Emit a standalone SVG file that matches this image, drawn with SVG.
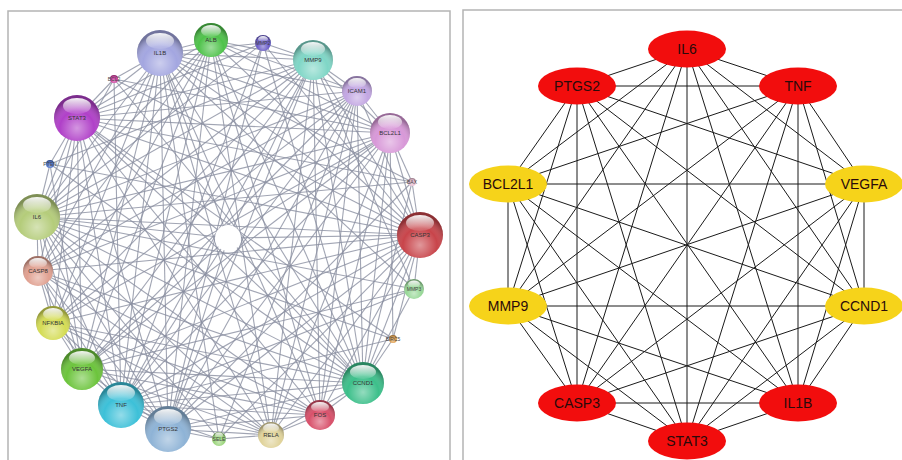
<svg xmlns="http://www.w3.org/2000/svg" width="902" height="460" viewBox="0 0 902 460">
<style>
.frame{fill:none;stroke:#b4b4b4;stroke-width:1.5}
.e1 line{stroke:#8a8fa0;stroke-width:1.1;stroke-opacity:0.8}
.e2 line{stroke:#1a1a1a;stroke-width:1}
.shade{fill:url(#shade)}
.gloss{fill:url(#gloss)}
.lbl{font-family:"Liberation Sans",Arial,sans-serif;font-size:6px;fill:#333;text-anchor:middle}
.sl{font-family:"Liberation Sans",Arial,sans-serif;font-size:5px;fill:#444;text-anchor:middle}
.big{font-family:"Liberation Sans",Arial,sans-serif;font-size:14px;fill:#2a0a0a;text-anchor:middle}
.red{fill:#f20d0d}
.yel{fill:#f6d31a}
</style>
<defs>
<radialGradient id="shade" cx="50%" cy="72%" r="62%">
<stop offset="0" stop-color="#fff" stop-opacity="0.45"/>
<stop offset="0.6" stop-color="#fff" stop-opacity="0"/>
<stop offset="1" stop-color="#000" stop-opacity="0.3"/>
</radialGradient>
<linearGradient id="gloss" x1="0" y1="0" x2="0" y2="1">
<stop offset="0" stop-color="#fff" stop-opacity="0.95"/>
<stop offset="1" stop-color="#fff" stop-opacity="0.1"/>
</linearGradient>
</defs>
<rect width="902" height="460" fill="#fff"/>
<path class="frame" d="M8 462V11H450V462"/>
<path class="frame" d="M463 462V10H905"/>

<g id="left-edges" class="e1">
<line x1="160" y1="53" x2="211" y2="40"/><line x1="160" y1="53" x2="313" y2="60"/><line x1="160" y1="53" x2="357" y2="91"/><line x1="160" y1="53" x2="390" y2="133"/><line x1="160" y1="53" x2="420" y2="235"/><line x1="160" y1="53" x2="363" y2="383"/><line x1="160" y1="53" x2="320" y2="415"/><line x1="160" y1="53" x2="271" y2="435"/><line x1="160" y1="53" x2="168" y2="429"/><line x1="160" y1="53" x2="121" y2="405"/><line x1="160" y1="53" x2="82" y2="369"/><line x1="160" y1="53" x2="53" y2="323"/><line x1="160" y1="53" x2="38" y2="271"/><line x1="160" y1="53" x2="37" y2="217"/><line x1="160" y1="53" x2="77" y2="118"/>
<line x1="211" y1="40" x2="313" y2="60"/><line x1="211" y1="40" x2="357" y2="91"/><line x1="211" y1="40" x2="390" y2="133"/><line x1="211" y1="40" x2="420" y2="235"/><line x1="211" y1="40" x2="363" y2="383"/><line x1="211" y1="40" x2="320" y2="415"/><line x1="211" y1="40" x2="271" y2="435"/><line x1="211" y1="40" x2="168" y2="429"/><line x1="211" y1="40" x2="121" y2="405"/><line x1="211" y1="40" x2="82" y2="369"/><line x1="211" y1="40" x2="53" y2="323"/><line x1="211" y1="40" x2="38" y2="271"/><line x1="211" y1="40" x2="37" y2="217"/><line x1="211" y1="40" x2="77" y2="118"/>
<line x1="313" y1="60" x2="357" y2="91"/><line x1="313" y1="60" x2="390" y2="133"/><line x1="313" y1="60" x2="420" y2="235"/><line x1="313" y1="60" x2="363" y2="383"/><line x1="313" y1="60" x2="320" y2="415"/><line x1="313" y1="60" x2="271" y2="435"/><line x1="313" y1="60" x2="168" y2="429"/><line x1="313" y1="60" x2="121" y2="405"/><line x1="313" y1="60" x2="82" y2="369"/><line x1="313" y1="60" x2="53" y2="323"/><line x1="313" y1="60" x2="38" y2="271"/><line x1="313" y1="60" x2="37" y2="217"/><line x1="313" y1="60" x2="77" y2="118"/>
<line x1="357" y1="91" x2="390" y2="133"/><line x1="357" y1="91" x2="420" y2="235"/><line x1="357" y1="91" x2="363" y2="383"/><line x1="357" y1="91" x2="320" y2="415"/><line x1="357" y1="91" x2="271" y2="435"/><line x1="357" y1="91" x2="168" y2="429"/><line x1="357" y1="91" x2="121" y2="405"/><line x1="357" y1="91" x2="82" y2="369"/><line x1="357" y1="91" x2="53" y2="323"/><line x1="357" y1="91" x2="38" y2="271"/><line x1="357" y1="91" x2="37" y2="217"/><line x1="357" y1="91" x2="77" y2="118"/>
<line x1="390" y1="133" x2="420" y2="235"/><line x1="390" y1="133" x2="363" y2="383"/><line x1="390" y1="133" x2="320" y2="415"/><line x1="390" y1="133" x2="271" y2="435"/><line x1="390" y1="133" x2="168" y2="429"/><line x1="390" y1="133" x2="121" y2="405"/><line x1="390" y1="133" x2="82" y2="369"/><line x1="390" y1="133" x2="53" y2="323"/><line x1="390" y1="133" x2="38" y2="271"/><line x1="390" y1="133" x2="37" y2="217"/><line x1="390" y1="133" x2="77" y2="118"/>
<line x1="420" y1="235" x2="363" y2="383"/><line x1="420" y1="235" x2="320" y2="415"/><line x1="420" y1="235" x2="271" y2="435"/><line x1="420" y1="235" x2="168" y2="429"/><line x1="420" y1="235" x2="121" y2="405"/><line x1="420" y1="235" x2="82" y2="369"/><line x1="420" y1="235" x2="53" y2="323"/><line x1="420" y1="235" x2="38" y2="271"/><line x1="420" y1="235" x2="37" y2="217"/><line x1="420" y1="235" x2="77" y2="118"/>
<line x1="363" y1="383" x2="320" y2="415"/><line x1="363" y1="383" x2="271" y2="435"/><line x1="363" y1="383" x2="168" y2="429"/><line x1="363" y1="383" x2="121" y2="405"/><line x1="363" y1="383" x2="82" y2="369"/><line x1="363" y1="383" x2="53" y2="323"/><line x1="363" y1="383" x2="38" y2="271"/><line x1="363" y1="383" x2="37" y2="217"/><line x1="363" y1="383" x2="77" y2="118"/>
<line x1="320" y1="415" x2="271" y2="435"/><line x1="320" y1="415" x2="168" y2="429"/><line x1="320" y1="415" x2="121" y2="405"/><line x1="320" y1="415" x2="82" y2="369"/><line x1="320" y1="415" x2="53" y2="323"/><line x1="320" y1="415" x2="38" y2="271"/><line x1="320" y1="415" x2="37" y2="217"/><line x1="320" y1="415" x2="77" y2="118"/>
<line x1="271" y1="435" x2="168" y2="429"/><line x1="271" y1="435" x2="121" y2="405"/><line x1="271" y1="435" x2="82" y2="369"/><line x1="271" y1="435" x2="53" y2="323"/><line x1="271" y1="435" x2="38" y2="271"/><line x1="271" y1="435" x2="37" y2="217"/><line x1="271" y1="435" x2="77" y2="118"/>
<line x1="168" y1="429" x2="121" y2="405"/><line x1="168" y1="429" x2="82" y2="369"/><line x1="168" y1="429" x2="53" y2="323"/><line x1="168" y1="429" x2="38" y2="271"/><line x1="168" y1="429" x2="37" y2="217"/><line x1="168" y1="429" x2="77" y2="118"/>
<line x1="121" y1="405" x2="82" y2="369"/><line x1="121" y1="405" x2="53" y2="323"/><line x1="121" y1="405" x2="38" y2="271"/><line x1="121" y1="405" x2="37" y2="217"/><line x1="121" y1="405" x2="77" y2="118"/>
<line x1="82" y1="369" x2="53" y2="323"/><line x1="82" y1="369" x2="38" y2="271"/><line x1="82" y1="369" x2="37" y2="217"/><line x1="82" y1="369" x2="77" y2="118"/>
<line x1="53" y1="323" x2="38" y2="271"/><line x1="53" y1="323" x2="37" y2="217"/><line x1="53" y1="323" x2="77" y2="118"/>
<line x1="38" y1="271" x2="37" y2="217"/><line x1="38" y1="271" x2="77" y2="118"/>
<line x1="37" y1="217" x2="77" y2="118"/>
<line x1="263" y1="43" x2="160" y2="53"/><line x1="263" y1="43" x2="313" y2="60"/><line x1="263" y1="43" x2="420" y2="235"/><line x1="263" y1="43" x2="168" y2="429"/><line x1="263" y1="43" x2="121" y2="405"/><line x1="263" y1="43" x2="37" y2="217"/><line x1="263" y1="43" x2="77" y2="118"/><line x1="263" y1="43" x2="363" y2="383"/>
<line x1="412" y1="182" x2="390" y2="133"/><line x1="412" y1="182" x2="420" y2="235"/><line x1="412" y1="182" x2="160" y2="53"/><line x1="412" y1="182" x2="77" y2="118"/><line x1="412" y1="182" x2="37" y2="217"/><line x1="412" y1="182" x2="168" y2="429"/><line x1="412" y1="182" x2="363" y2="383"/>
<line x1="414" y1="289" x2="420" y2="235"/><line x1="414" y1="289" x2="363" y2="383"/><line x1="414" y1="289" x2="121" y2="405"/><line x1="414" y1="289" x2="37" y2="217"/><line x1="414" y1="289" x2="160" y2="53"/><line x1="414" y1="289" x2="313" y2="60"/><line x1="414" y1="289" x2="82" y2="369"/>
<line x1="393" y1="339" x2="363" y2="383"/><line x1="393" y1="339" x2="420" y2="235"/><line x1="393" y1="339" x2="390" y2="133"/><line x1="393" y1="339" x2="77" y2="118"/><line x1="393" y1="339" x2="37" y2="217"/><line x1="393" y1="339" x2="121" y2="405"/>
<line x1="219" y1="439" x2="168" y2="429"/><line x1="219" y1="439" x2="121" y2="405"/><line x1="219" y1="439" x2="271" y2="435"/><line x1="219" y1="439" x2="357" y2="91"/><line x1="219" y1="439" x2="160" y2="53"/><line x1="219" y1="439" x2="37" y2="217"/><line x1="219" y1="439" x2="420" y2="235"/>
<line x1="50" y1="164" x2="77" y2="118"/><line x1="50" y1="164" x2="37" y2="217"/><line x1="50" y1="164" x2="82" y2="369"/><line x1="50" y1="164" x2="420" y2="235"/><line x1="50" y1="164" x2="363" y2="383"/><line x1="50" y1="164" x2="313" y2="60"/>
<line x1="114" y1="79" x2="77" y2="118"/><line x1="114" y1="79" x2="160" y2="53"/><line x1="114" y1="79" x2="390" y2="133"/><line x1="114" y1="79" x2="420" y2="235"/><line x1="114" y1="79" x2="37" y2="217"/><line x1="114" y1="79" x2="121" y2="405"/><line x1="114" y1="79" x2="363" y2="383"/>
<line x1="228" y1="238" x2="160" y2="53"/><line x1="228" y1="238" x2="313" y2="60"/><line x1="228" y1="238" x2="420" y2="235"/><line x1="228" y1="238" x2="363" y2="383"/><line x1="228" y1="238" x2="168" y2="429"/><line x1="228" y1="238" x2="121" y2="405"/><line x1="228" y1="238" x2="37" y2="217"/><line x1="228" y1="238" x2="77" y2="118"/><line x1="228" y1="238" x2="390" y2="133"/><line x1="228" y1="238" x2="82" y2="369"/>
</g>

<g id="left-nodes">
<g id="n-center"><circle cx="228" cy="238" r="13" fill="#fff"/></g>
<g id="n-IL1B"><circle cx="160" cy="53" r="23" fill="#a3a6e0"/><circle class="shade" cx="160" cy="53" r="23"/><ellipse class="gloss" cx="160" cy="41" rx="14" ry="8"/><text class="lbl" x="160" y="55">IL1B</text></g>
<g id="n-ALB"><circle cx="211" cy="40" r="17" fill="#4ec24a"/><circle class="shade" cx="211" cy="40" r="17"/><ellipse class="gloss" cx="211" cy="31" rx="10" ry="6"/><text class="lbl" x="211" y="42">ALB</text></g>
<g id="n-MMP2"><circle cx="263" cy="43" r="8" fill="#6a5cc8"/><circle class="shade" cx="263" cy="43" r="8"/><ellipse class="gloss" cx="263" cy="39" rx="5" ry="3"/><text class="sl" x="263" y="45">MMP2</text></g>
<g id="n-MMP9"><circle cx="313" cy="60" r="20" fill="#7fd6c6"/><circle class="shade" cx="313" cy="60" r="20"/><ellipse class="gloss" cx="313" cy="49" rx="12" ry="7"/><text class="lbl" x="313" y="62">MMP9</text></g>
<g id="n-ICAM1"><circle cx="357" cy="91" r="15" fill="#c2a6e2"/><circle class="shade" cx="357" cy="91" r="15"/><ellipse class="gloss" cx="357" cy="83" rx="9" ry="5"/><text class="lbl" x="357" y="93">ICAM1</text></g>
<g id="n-BCL2L1"><circle cx="390" cy="133" r="20" fill="#d898d8"/><circle class="shade" cx="390" cy="133" r="20"/><ellipse class="gloss" cx="390" cy="122" rx="12" ry="7"/><text class="lbl" x="390" y="135">BCL2L1</text></g>
<g id="n-BAX"><circle cx="412" cy="182" r="4" fill="#e8bcd0"/><circle class="shade" cx="412" cy="182" r="4"/><text class="sl" x="412" y="184">BAX</text></g>
<g id="n-CASP3"><circle cx="420" cy="235" r="23" fill="#c8444a"/><circle class="shade" cx="420" cy="235" r="23"/><ellipse class="gloss" cx="420" cy="223" rx="14" ry="8"/><text class="lbl" x="420" y="237">CASP3</text></g>
<g id="n-MMP3"><circle cx="414" cy="289" r="10" fill="#98d898"/><circle class="shade" cx="414" cy="289" r="10"/><ellipse class="gloss" cx="414" cy="284" rx="6" ry="3.5"/><text class="sl" x="414" y="291">MMP3</text></g>
<g id="n-BIRC5"><circle cx="393" cy="339" r="4" fill="#e0a050"/><circle class="shade" cx="393" cy="339" r="4"/><text class="sl" x="393" y="341">BIRC5</text></g>
<g id="n-CCND1"><circle cx="363" cy="383" r="21" fill="#3cbf8a"/><circle class="shade" cx="363" cy="383" r="21"/><ellipse class="gloss" cx="363" cy="372" rx="13" ry="7"/><text class="lbl" x="363" y="385">CCND1</text></g>
<g id="n-FOS"><circle cx="320" cy="415" r="15" fill="#d8506a"/><circle class="shade" cx="320" cy="415" r="15"/><ellipse class="gloss" cx="320" cy="407" rx="9" ry="5"/><text class="lbl" x="320" y="417">FOS</text></g>
<g id="n-RELA"><circle cx="271" cy="435" r="13" fill="#e0d39a"/><circle class="shade" cx="271" cy="435" r="13"/><ellipse class="gloss" cx="271" cy="428" rx="8" ry="4.5"/><text class="lbl" x="271" y="437">RELA</text></g>
<g id="n-SELE"><circle cx="219" cy="439" r="7" fill="#9ad47a"/><circle class="shade" cx="219" cy="439" r="7"/><ellipse class="gloss" cx="219" cy="435" rx="4" ry="2.5"/><text class="sl" x="219" y="441">SELE</text></g>
<g id="n-PTGS2"><circle cx="168" cy="429" r="23" fill="#8eb3d6"/><circle class="shade" cx="168" cy="429" r="23"/><ellipse class="gloss" cx="168" cy="417" rx="14" ry="8"/><text class="lbl" x="168" y="431">PTGS2</text></g>
<g id="n-TNF"><circle cx="121" cy="405" r="23" fill="#3cc0d8"/><circle class="shade" cx="121" cy="405" r="23"/><ellipse class="gloss" cx="121" cy="393" rx="14" ry="8"/><text class="lbl" x="121" y="407">TNF</text></g>
<g id="n-VEGFA"><circle cx="82" cy="369" r="21" fill="#6cc43c"/><circle class="shade" cx="82" cy="369" r="21"/><ellipse class="gloss" cx="82" cy="358" rx="13" ry="7"/><text class="lbl" x="82" y="371">VEGFA</text></g>
<g id="n-NFKBIA"><circle cx="53" cy="323" r="17" fill="#d4dc54"/><circle class="shade" cx="53" cy="323" r="17"/><ellipse class="gloss" cx="53" cy="314" rx="10" ry="6"/><text class="lbl" x="53" y="325">NFKBIA</text></g>
<g id="n-CASP8"><circle cx="38" cy="271" r="15" fill="#e0a090"/><circle class="shade" cx="38" cy="271" r="15"/><ellipse class="gloss" cx="38" cy="263" rx="9" ry="5"/><text class="lbl" x="38" y="273">CASP8</text></g>
<g id="n-IL6"><circle cx="37" cy="217" r="23" fill="#b4cc7a"/><circle class="shade" cx="37" cy="217" r="23"/><ellipse class="gloss" cx="37" cy="205" rx="14" ry="8"/><text class="lbl" x="37" y="219">IL6</text></g>
<g id="n-PTEN"><circle cx="50" cy="164" r="4" fill="#4a70c8"/><circle class="shade" cx="50" cy="164" r="4"/><text class="sl" x="50" y="166">PTEN</text></g>
<g id="n-STAT3"><circle cx="77" cy="118" r="23" fill="#b040c8"/><circle class="shade" cx="77" cy="118" r="23"/><ellipse class="gloss" cx="77" cy="106" rx="14" ry="8"/><text class="lbl" x="77" y="120">STAT3</text></g>
<g id="n-BCL2"><circle cx="114" cy="79" r="4" fill="#d040a0"/><circle class="shade" cx="114" cy="79" r="4"/><text class="sl" x="114" y="81">BCL2</text></g>
</g>

<g id="right-edges" class="e2">
<line x1="687" y1="49" x2="577" y2="86"/><line x1="687" y1="49" x2="798" y2="86"/><line x1="687" y1="49" x2="508" y2="184"/><line x1="687" y1="49" x2="864" y2="184"/><line x1="687" y1="49" x2="508" y2="306"/><line x1="687" y1="49" x2="864" y2="306"/><line x1="687" y1="49" x2="577" y2="403"/><line x1="687" y1="49" x2="798" y2="403"/><line x1="687" y1="49" x2="687" y2="441"/>
<line x1="577" y1="86" x2="798" y2="86"/><line x1="577" y1="86" x2="508" y2="184"/><line x1="577" y1="86" x2="864" y2="184"/><line x1="577" y1="86" x2="508" y2="306"/><line x1="577" y1="86" x2="864" y2="306"/><line x1="577" y1="86" x2="577" y2="403"/><line x1="577" y1="86" x2="798" y2="403"/><line x1="577" y1="86" x2="687" y2="441"/>
<line x1="798" y1="86" x2="508" y2="184"/><line x1="798" y1="86" x2="864" y2="184"/><line x1="798" y1="86" x2="508" y2="306"/><line x1="798" y1="86" x2="864" y2="306"/><line x1="798" y1="86" x2="577" y2="403"/><line x1="798" y1="86" x2="798" y2="403"/><line x1="798" y1="86" x2="687" y2="441"/>
<line x1="508" y1="184" x2="864" y2="184"/><line x1="508" y1="184" x2="508" y2="306"/><line x1="508" y1="184" x2="864" y2="306"/><line x1="508" y1="184" x2="577" y2="403"/><line x1="508" y1="184" x2="798" y2="403"/><line x1="508" y1="184" x2="687" y2="441"/>
<line x1="864" y1="184" x2="508" y2="306"/><line x1="864" y1="184" x2="864" y2="306"/><line x1="864" y1="184" x2="577" y2="403"/><line x1="864" y1="184" x2="798" y2="403"/><line x1="864" y1="184" x2="687" y2="441"/>
<line x1="508" y1="306" x2="864" y2="306"/><line x1="508" y1="306" x2="577" y2="403"/><line x1="508" y1="306" x2="798" y2="403"/><line x1="508" y1="306" x2="687" y2="441"/>
<line x1="864" y1="306" x2="577" y2="403"/><line x1="864" y1="306" x2="798" y2="403"/><line x1="864" y1="306" x2="687" y2="441"/>
<line x1="577" y1="403" x2="798" y2="403"/><line x1="577" y1="403" x2="687" y2="441"/>
<line x1="798" y1="403" x2="687" y2="441"/>
</g>

<g id="right-nodes">
<g id="r-IL6"><ellipse class="red" cx="687" cy="49" rx="39" ry="18.5"/><text class="big" x="687" y="54">IL6</text></g>
<g id="r-PTGS2"><ellipse class="red" cx="577" cy="86" rx="39" ry="18.5"/><text class="big" x="577" y="91">PTGS2</text></g>
<g id="r-TNF"><ellipse class="red" cx="798" cy="86" rx="39" ry="18.5"/><text class="big" x="798" y="91">TNF</text></g>
<g id="r-BCL2L1"><ellipse class="yel" cx="508" cy="184" rx="39" ry="18.5"/><text class="big" x="508" y="189">BCL2L1</text></g>
<g id="r-VEGFA"><ellipse class="yel" cx="864" cy="184" rx="39" ry="18.5"/><text class="big" x="864" y="189">VEGFA</text></g>
<g id="r-MMP9"><ellipse class="yel" cx="508" cy="306" rx="39" ry="18.5"/><text class="big" x="508" y="311">MMP9</text></g>
<g id="r-CCND1"><ellipse class="yel" cx="864" cy="306" rx="39" ry="18.5"/><text class="big" x="864" y="311">CCND1</text></g>
<g id="r-CASP3"><ellipse class="red" cx="577" cy="403" rx="39" ry="18.5"/><text class="big" x="577" y="408">CASP3</text></g>
<g id="r-IL1B"><ellipse class="red" cx="798" cy="403" rx="39" ry="18.5"/><text class="big" x="798" y="408">IL1B</text></g>
<g id="r-STAT3"><ellipse class="red" cx="687" cy="441" rx="39" ry="18.5"/><text class="big" x="687" y="446">STAT3</text></g>
</g>
</svg>
